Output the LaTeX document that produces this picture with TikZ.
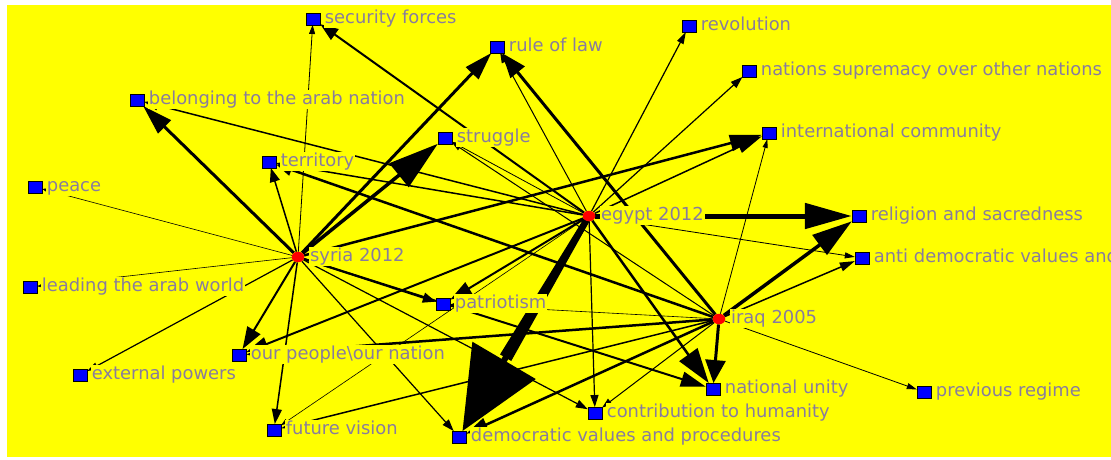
\documentclass[tikz,border=0pt]{standalone}
\usepackage{fontspec}
\newfontfamily\lblfont{DejaVu Sans}
\usetikzlibrary{arrows.meta,shapes.geometric,calc}
\definecolor{bgyellow}{RGB}{255,255,0}
\definecolor{lblgray}{RGB}{136,124,158}
\definecolor{sqblue}{RGB}{0,0,255}
\definecolor{dotred}{RGB}{255,0,0}
\pgfdeclarelayer{background}
\pgfdeclarelayer{edges}
\pgfsetlayers{background,edges,main}
\begin{document}
\begin{tikzpicture}[x=1pt,y=-1pt,
  concept/.style={rectangle,draw=black,line width=0.4pt,fill=sqblue,
    minimum width=14pt,minimum height=11.5pt,inner sep=0pt},
  casedot/.style={ellipse,fill=dotred,minimum width=12.5pt,
    minimum height=10.5pt,inner sep=0pt},
  tag/.style={anchor=mid west,fill=bgyellow,inner sep=1pt,text=lblgray,
    font=\lblfont\fontsize{17.9}{20}\selectfont},
  ed/.style n args={3}{draw=black,line width=#1,
    -{Triangle[length=#2,width=#3]}}
]
\useasboundingbox (0,0) rectangle (1111,460);
\clip (0,0) rectangle (1111,460);
\begin{pgfonlayer}{background}
\fill[white] (0,0) rectangle (1111,460);
\fill[bgyellow] (7,5) rectangle (1111,457);
\end{pgfonlayer}

% concept squares
\node[concept] (sec)  at (313,19)  {};
\node[concept] (rol)  at (497,47)  {};
\node[concept] (rev)  at (689,26)  {};
\node[concept] (nsup) at (749,71)  {};
\node[concept] (bel)  at (137,100) {};
\node[concept] (str)  at (445,138) {};
\node[concept] (intl) at (769,133) {};
\node[concept] (ter)  at (269,162) {};
\node[concept] (pea)  at (35,187)  {};
\node[concept] (rel)  at (859,216) {};
\node[concept] (anti) at (862,258) {};
\node[concept] (lead) at (30,287)  {};
\node[concept] (pat)  at (443,304) {};
\node[concept] (opl)  at (239,355) {};
\node[concept] (ext)  at (80,375)  {};
\node[concept] (nu)   at (713,389) {};
\node[concept] (prev) at (924,392) {};
\node[concept] (con)  at (595,413) {};
\node[concept] (fut)  at (274,430) {};
\node[concept] (dem)  at (459,437) {};

% case nodes
\node[casedot] (egy) at (589,216) {};
\node[casedot] (syr) at (298,257) {};
\node[casedot] (irq) at (719,319) {};

% labels (opaque, they hide the edges running beneath them)
\begin{scope}[every node/.append style={yshift=-2pt}]
\node[tag] (secL)  at ([xshift=3.5pt]sec.east)  {security forces};
\node[tag] (rolL)  at ([xshift=3.5pt]rol.east)  {rule of law};
\node[tag] (revL)  at ([xshift=3.5pt]rev.east)  {revolution};
\node[tag] (nsupL) at ([xshift=3.5pt]nsup.east) {nations supremacy over other nations};
\node[tag] (belL)  at ([xshift=3.5pt]bel.east)  {belonging to the arab nation};
\node[tag] (strL)  at ([xshift=3.5pt]str.east)  {struggle};
\node[tag] (intlL) at ([xshift=3.5pt]intl.east) {international community};
\node[tag] (terL)  at ([xshift=3.5pt]ter.east)  {territory};
\node[tag] (peaL)  at ([xshift=3.5pt]pea.east)  {peace};
\node[tag] (relL)  at ([xshift=3.5pt]rel.east)  {religion and sacredness};
\node[tag] (antiL) at ([xshift=3.5pt]anti.east) {anti democratic values and};
\node[tag] (leadL) at ([xshift=3.5pt]lead.east) {leading the arab world};
\node[tag] (patL)  at ([xshift=3.5pt]pat.east)  {patriotism};
\node[tag] (oplL)  at ([xshift=3.5pt]opl.east)  {our people\textbackslash our nation};
\node[tag] (extL)  at ([xshift=3.5pt]ext.east)  {external powers};
\node[tag] (nuL)   at ([xshift=3.5pt]nu.east)   {national unity};
\node[tag] (prevL) at ([xshift=3.5pt]prev.east) {previous regime};
\node[tag] (conL)  at ([xshift=3.5pt]con.east)  {contribution to humanity};
\node[tag] (futL)  at ([xshift=3.5pt]fut.east)  {future vision};
\node[tag] (demL)  at ([xshift=3.5pt]dem.east)  {democratic values and procedures};
\node[tag] (egyL)  at ([xshift=4.5pt]egy.east)  {egypt 2012};
\node[tag] (syrL)  at ([xshift=4.5pt]syr.east)  {syria 2012};
\node[tag] (irqL)  at ([xshift=4.5pt]irq.east)  {iraq 2005};
\end{scope}

\begin{pgfonlayer}{edges}
% syria 2012
\draw[ed={3pt}{30pt}{18pt}]   (syr) -- (bel);
\draw[ed={1.5pt}{14pt}{10pt}] (syr) -- (ter);
\draw[ed={0.8pt}{9pt}{6pt}]   (syr) -- (sec);
\draw[ed={3pt}{28pt}{17pt}]   (syr) -- (rol);
\draw[ed={3.5pt}{50pt}{30pt}] (syr) -- (str);
\draw[ed={2.5pt}{32pt}{16pt}] (syr) -- (intl);
\draw[ed={0.6pt}{7pt}{5pt}]   (syr) -- (pea);
\draw[ed={0.6pt}{7pt}{5pt}]   (syr) -- (lead);
\draw[ed={1.2pt}{11pt}{7pt}]  (syr) -- (ext);
\draw[ed={2pt}{22pt}{15pt}]   (syr) -- (opl);
\draw[ed={1.5pt}{15pt}{10pt}] (syr) -- (fut);
\draw[ed={1.2pt}{12pt}{8pt}]  (syr) -- (dem);
\draw[ed={1.2pt}{12pt}{8pt}]  (syr) -- (con);
\draw[ed={2pt}{13pt}{10pt}]   (syr) -- (pat);
\draw[ed={2pt}{25pt}{15pt}]   (syr) -- (nu);
% egypt 2012
\draw[ed={2pt}{18pt}{13pt}]   (egy) -- (sec);
\draw[ed={1pt}{10pt}{7pt}]    (egy) -- (rol);
\draw[ed={1.2pt}{12pt}{7pt}]  (egy) -- (rev);
\draw[ed={1.2pt}{12pt}{8pt}]  (egy) -- (nsup);
\draw[ed={1.5pt}{25pt}{13pt}] (egy) -- (intl);
\draw[ed={5pt}{47pt}{25pt}]   (egy) -- (rel);
\draw[ed={0.8pt}{10pt}{6pt}]  (egy) -- (anti);
% the heaviest edge widens towards its head
\draw[ed={6pt}{82pt}{72pt}]   (egy) -- (dem);
\coordinate (dbase) at ($(dem)!92pt!(egy)$);
\fill ($(egy)!3pt!90:(dbase)$) -- ($(egy)!3pt!-90:(dbase)$)
   -- ($(dbase)!6.5pt!90:(egy)$) -- ($(dbase)!6.5pt!-90:(egy)$) -- cycle;
\draw[ed={2pt}{22pt}{14pt}]   (egy) -- (opl);
\draw[ed={2pt}{22pt}{14pt}]   (egy) -- (pat);
\draw[ed={1.2pt}{12pt}{8pt}]  (egy) -- (con);
\draw[ed={2.5pt}{35pt}{22pt}] (egy) -- (nu);
\draw[ed={0.8pt}{9pt}{6pt}]   (egy) -- (str);
\draw[ed={1.5pt}{14pt}{10pt}] (egy) -- (bel);
\draw[ed={1.5pt}{14pt}{10pt}] (egy) -- (ter);
\draw[ed={0.6pt}{7pt}{5pt}]   (egy) -- (fut);
% iraq 2005
\draw[ed={3pt}{25pt}{18pt}]   (irq) -- (rol);
\draw[ed={0.8pt}{9pt}{5pt}]   (irq) -- (intl);
\draw[ed={3.5pt}{40pt}{24pt}] (irq) -- (rel);
\draw[ed={1.5pt}{15pt}{9pt}]  (irq) -- (anti);
\draw[ed={0.8pt}{10pt}{6pt}]  (irq) -- (prev);
\draw[ed={3pt}{23pt}{20pt}]   (irq) -- (nu);
\draw[ed={1pt}{10pt}{7pt}]    (irq) -- (con);
\draw[ed={2.5pt}{22pt}{14pt}] (irq) -- (dem);
\draw[ed={1.5pt}{14pt}{9pt}]  (irq) -- (fut);
\draw[ed={2.5pt}{18pt}{12pt}] (irq) -- (opl);
\draw[ed={0.6pt}{7pt}{5pt}]   (irq) -- (pat);
\draw[ed={2.5pt}{16pt}{12pt}] (irq) -- (ter);
\draw[ed={1pt}{9pt}{6pt}]     (irq) -- (str);
\end{pgfonlayer}
\end{tikzpicture}
\end{document}
